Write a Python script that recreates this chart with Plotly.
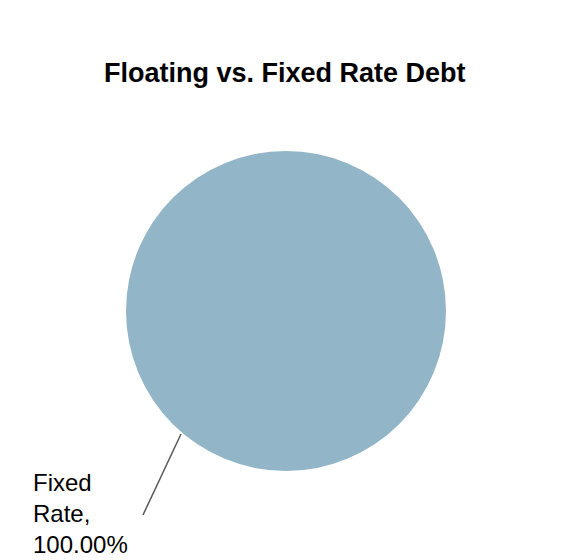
import plotly.graph_objects as go

# debt split
labels = ["Fixed Rate"]
values = [100.0]
colors = ["#93B5C8"]
title = "Floating vs. Fixed Rate Debt"

W, H = 570, 560
OFF = 8  # page body margin

def px_x(x):
    return (x - OFF) / W

def px_y(y):
    return 1 - (y - OFF) / H

fig = go.Figure()
fig.add_trace(go.Pie(
    labels=labels,
    values=values,
    marker=dict(colors=colors, line=dict(width=0)),
    textinfo="none",
    sort=False,
    direction="clockwise",
    hoverinfo="label+percent",
    domain=dict(x=[px_x(126), px_x(446)], y=[px_y(471), px_y(151)]),
    showlegend=False,
))

total = sum(values)
for lab, v in zip(labels, values):
    pct = v / total * 100
    words = lab.split(" ")
    txt = "<br>".join(words[:-1] + [words[-1] + ","]) + "<br>%.2f%%" % pct
    fig.add_annotation(
        x=px_x(31), y=px_y(467), xref="paper", yref="paper",
        text=txt, showarrow=False, xanchor="left", yanchor="top", align="left",
        font=dict(family="Liberation Sans, Arial", size=24, color="#000000"),
    )
    # leader line
    fig.add_shape(type="line", xref="paper", yref="paper",
                  x0=px_x(181), y0=px_y(434), x1=px_x(143), y1=px_y(515),
                  line=dict(color="#595959", width=1.5))

fig.add_annotation(
    x=px_x(285), y=px_y(73), xref="paper", yref="paper",
    text="<b>" + title + "</b>", showarrow=False, xanchor="center", yanchor="middle",
    font=dict(family="Liberation Sans, Arial", size=27, color="#000000"),
)

fig.update_layout(
    width=W, height=H,
    margin=dict(l=0, r=0, t=0, b=0),
    paper_bgcolor="white",
    plot_bgcolor="white",
)

fig.write_html("out.html")
